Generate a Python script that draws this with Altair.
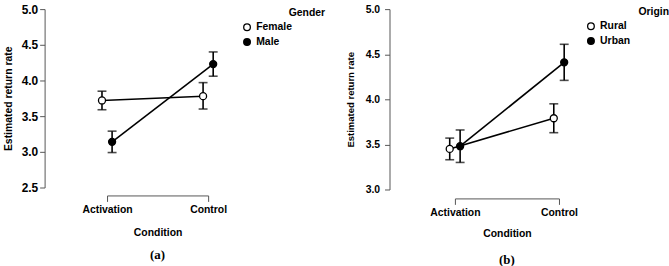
import altair as alt
import pandas as pd

# Condition categories shared by both panels
conditions = ["Activation", "Control"]

# Panel (a): estimated return rate by gender
gender_groups = ["Female", "Male"]
gender_mean_female = [3.72, 3.78]
gender_lo_female = [3.59, 3.60]
gender_hi_female = [3.85, 3.97]
gender_mean_male = [3.14, 4.23]
gender_lo_male = [2.99, 4.06]
gender_hi_male = [3.29, 4.40]

# Panel (b): estimated return rate by origin
origin_groups = ["Rural", "Urban"]
origin_mean_rural = [3.45, 3.79]
origin_lo_rural = [3.33, 3.63]
origin_hi_rural = [3.57, 3.95]
origin_mean_urban = [3.48, 4.41]
origin_lo_urban = [3.30, 4.21]
origin_hi_urban = [3.66, 4.61]

FONT = "Liberation Sans"
AXIS_GREY = "#555555"
DODGE = 0.05


def build_frame(groups, means, los, his):
    rows = []
    for g_idx, group in enumerate(groups):
        shift = -DODGE if g_idx == 0 else DODGE
        for c_idx, cond in enumerate(conditions):
            rows.append({
                "group": group,
                "condition": cond,
                "xpos": c_idx + shift,
                "mean": means[g_idx][c_idx],
                "lo": los[g_idx][c_idx],
                "hi": his[g_idx][c_idx],
            })
    return pd.DataFrame(rows)


label_expr = " : ".join(
    f"datum.value == {i} ? '{c}'" for i, c in enumerate(conditions)
) + " : ''"


def panel(df, groups, legend_title, y_domain, y_ticks, width, height,
          y_offset, y_label_size, y_label_pad, y_title_pad, y_title_size,
          x_offset, x_title_pad, tag, tag_offset, legend_x, legend_y,
          title_x, title_y):
    x_scale = alt.Scale(domain=[0, 1], nice=False, zero=False)
    x_axis = alt.Axis(
        values=[0, 1], labelExpr=label_expr, title="Condition",
        offset=x_offset, tickSize=6, labelPadding=3, titlePadding=x_title_pad,
        labelFlush=False, labelOverlap=False, grid=False,
        domainColor=AXIS_GREY, tickColor=AXIS_GREY,
        labelFont=FONT, labelFontSize=10.5, labelFontWeight="bold",
        labelColor="black", titleFont=FONT, titleFontSize=10.5,
        titleFontWeight="bold", titleColor="black",
    )
    y_scale = alt.Scale(domain=y_domain, nice=False, zero=False)
    y_axis = alt.Axis(
        values=y_ticks, format=".1f", title="Estimated return rate",
        offset=y_offset, tickSize=5, labelPadding=y_label_pad,
        titlePadding=y_title_pad,
        labelFlush=False, labelOverlap=False, grid=False,
        domainColor=AXIS_GREY, tickColor=AXIS_GREY,
        labelFont=FONT, labelFontSize=y_label_size, labelFontWeight="bold",
        labelColor="black", titleFont=FONT, titleFontSize=y_title_size,
        titleFontWeight="bold", titleColor="black",
    )

    # every layer carries the same axis definitions so the merged axes agree
    base = alt.Chart(df).encode(x=alt.X("xpos:Q", scale=x_scale, axis=x_axis))

    def y_of(field):
        return alt.Y(f"{field}:Q", scale=y_scale, axis=y_axis)

    lines = base.mark_line(color="black", strokeWidth=1.6).encode(
        y=y_of("mean"), detail="group:N"
    )
    bars = base.mark_rule(color="black", strokeWidth=1.6).encode(
        y=y_of("lo"), y2="hi:Q"
    )
    cap_lo = base.mark_tick(
        orient="horizontal", color="black", size=9, thickness=1.6
    ).encode(y=y_of("lo"))
    cap_hi = base.mark_tick(
        orient="horizontal", color="black", size=9, thickness=1.6
    ).encode(y=y_of("hi"))
    points = base.mark_point(
        shape="circle", filled=True, size=50, stroke="black",
        strokeWidth=1.3, opacity=1,
    ).encode(
        y=y_of("mean"),
        fill=alt.Fill(
            "group:N",
            scale=alt.Scale(domain=groups, range=["white", "black"]),
            legend=alt.Legend(
                title=None, orient="none", legendX=legend_x,
                legendY=legend_y, padding=0, symbolType="circle",
                symbolSize=45, symbolStrokeColor="black",
                symbolStrokeWidth=1.3, labelFont=FONT, labelFontSize=10.5,
                labelFontWeight="bold", labelColor="black", rowPadding=2,
                labelOffset=4,
            ),
        ),
    )
    heading = alt.Chart(pd.DataFrame({"t": [legend_title]})).mark_text(
        align="right", baseline="middle", font=FONT, fontSize=10.5,
        fontWeight="bold", color="black",
    ).encode(text="t:N", x=alt.value(title_x), y=alt.value(title_y))

    return alt.layer(lines, bars, cap_lo, cap_hi, points, heading).properties(
        width=width, height=height,
        title=alt.TitleParams(
            tag, orient="bottom", anchor="middle", frame="group",
            font="Liberation Serif", fontSize=13, fontWeight="bold",
            color="black", offset=tag_offset,
        ),
    )


df_gender = build_frame(
    gender_groups,
    [gender_mean_female, gender_mean_male],
    [gender_lo_female, gender_lo_male],
    [gender_hi_female, gender_hi_male],
)
df_origin = build_frame(
    origin_groups,
    [origin_mean_rural, origin_mean_urban],
    [origin_lo_rural, origin_lo_urban],
    [origin_hi_rural, origin_hi_urban],
)

left = panel(df_gender, gender_groups, "Gender", [2.5, 5.0],
             [2.5, 3.0, 3.5, 4.0, 4.5, 5.0], 102, 180,
             63, 12, 2, 8, 10.5,
             8, 13, "(a)", 11,
             136, 13, 220, 4)
right = panel(df_origin, origin_groups, "Origin", [3.0, 5.0],
              [3.0, 3.5, 4.0, 4.5, 5.0], 105, 182,
              66, 10.5, 5, 10, 9.6,
              9, 11, "(b)", 15,
              132, 12, 216, 3)

chart = alt.hconcat(left, right, spacing=20).resolve_scale(
    y="independent", x="independent", fill="independent"
).configure(
    padding={"left": 3, "top": 2, "right": 0, "bottom": 0}
).configure_view(stroke=None)

chart.save("out.html", embed_options={"renderer": "svg", "actions": False})
